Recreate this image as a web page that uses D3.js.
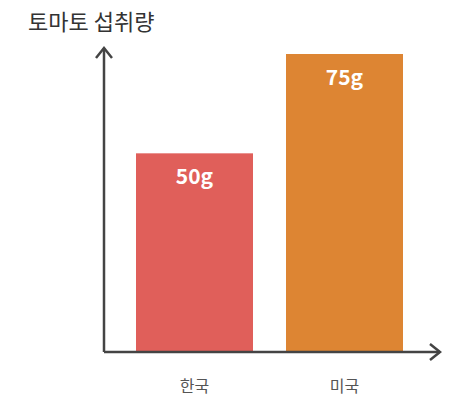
<!DOCTYPE html>
<html><head><meta charset="utf-8">
<script src="https://cdn.jsdelivr.net/npm/d3@7"></script>
<style>body{margin:0;background:#fff}</style>
</head><body>
<svg id="c" width="450" height="419"></svg>
<script>
const categories = ["한국", "미국"];
const values = [50, 75];
const labels = ["50g", "75g"];
const colors = ["#E05F5A", "#DD8533"];
const title = "토마토 섭취량";

const svg = d3.select("#c");
const font = "'Noto Sans CJK KR','Noto Sans',sans-serif";
const x = d3.scaleBand().domain(categories).range([136, 403]).paddingInner(0.22).paddingOuter(0);
const y = d3.scaleLinear().domain([0, 75]).range([352, 54]);

svg.append("text").attr("x", 28).attr("y", 30).attr("font-family", font)
  .attr("font-size", 22).attr("fill", "#333").text(title);

svg.selectAll("rect.bar").data(values).join("rect")
  .attr("x", (d, i) => x(categories[i])).attr("width", x.bandwidth())
  .attr("y", d => y(d)).attr("height", d => y(0) - y(d))
  .attr("fill", (d, i) => colors[i]);

svg.selectAll("text.v").data(values).join("text")
  .attr("x", (d, i) => x(categories[i]) + x.bandwidth() / 2)
  .attr("y", d => y(d) + 31).attr("text-anchor", "middle")
  .attr("font-family", font).attr("font-weight", 600).attr("font-size", 21)
  .attr("fill", "#fff").text((d, i) => labels[i]);

svg.selectAll("text.c").data(categories).join("text")
  .attr("x", d => x(d) + x.bandwidth() / 2).attr("y", 392)
  .attr("text-anchor", "middle").attr("font-family", font).attr("font-size", 16)
  .attr("fill", "#555").text(d => d);

const ax = "#444";
svg.append("line").attr("x1", 104).attr("y1", 352).attr("x2", 104).attr("y2", 48).attr("stroke", ax).attr("stroke-width", 2.5);
svg.append("line").attr("x1", 104).attr("y1", 352).attr("x2", 440).attr("y2", 352).attr("stroke", ax).attr("stroke-width", 2.5);
svg.append("path").attr("d", "M96,58 L104,48 L112,58").attr("fill", "none").attr("stroke", ax).attr("stroke-width", 2.5);
svg.append("path").attr("d", "M430,344 L440,352 L430,360").attr("fill", "none").attr("stroke", ax).attr("stroke-width", 2.5);
</script>
</body></html>
